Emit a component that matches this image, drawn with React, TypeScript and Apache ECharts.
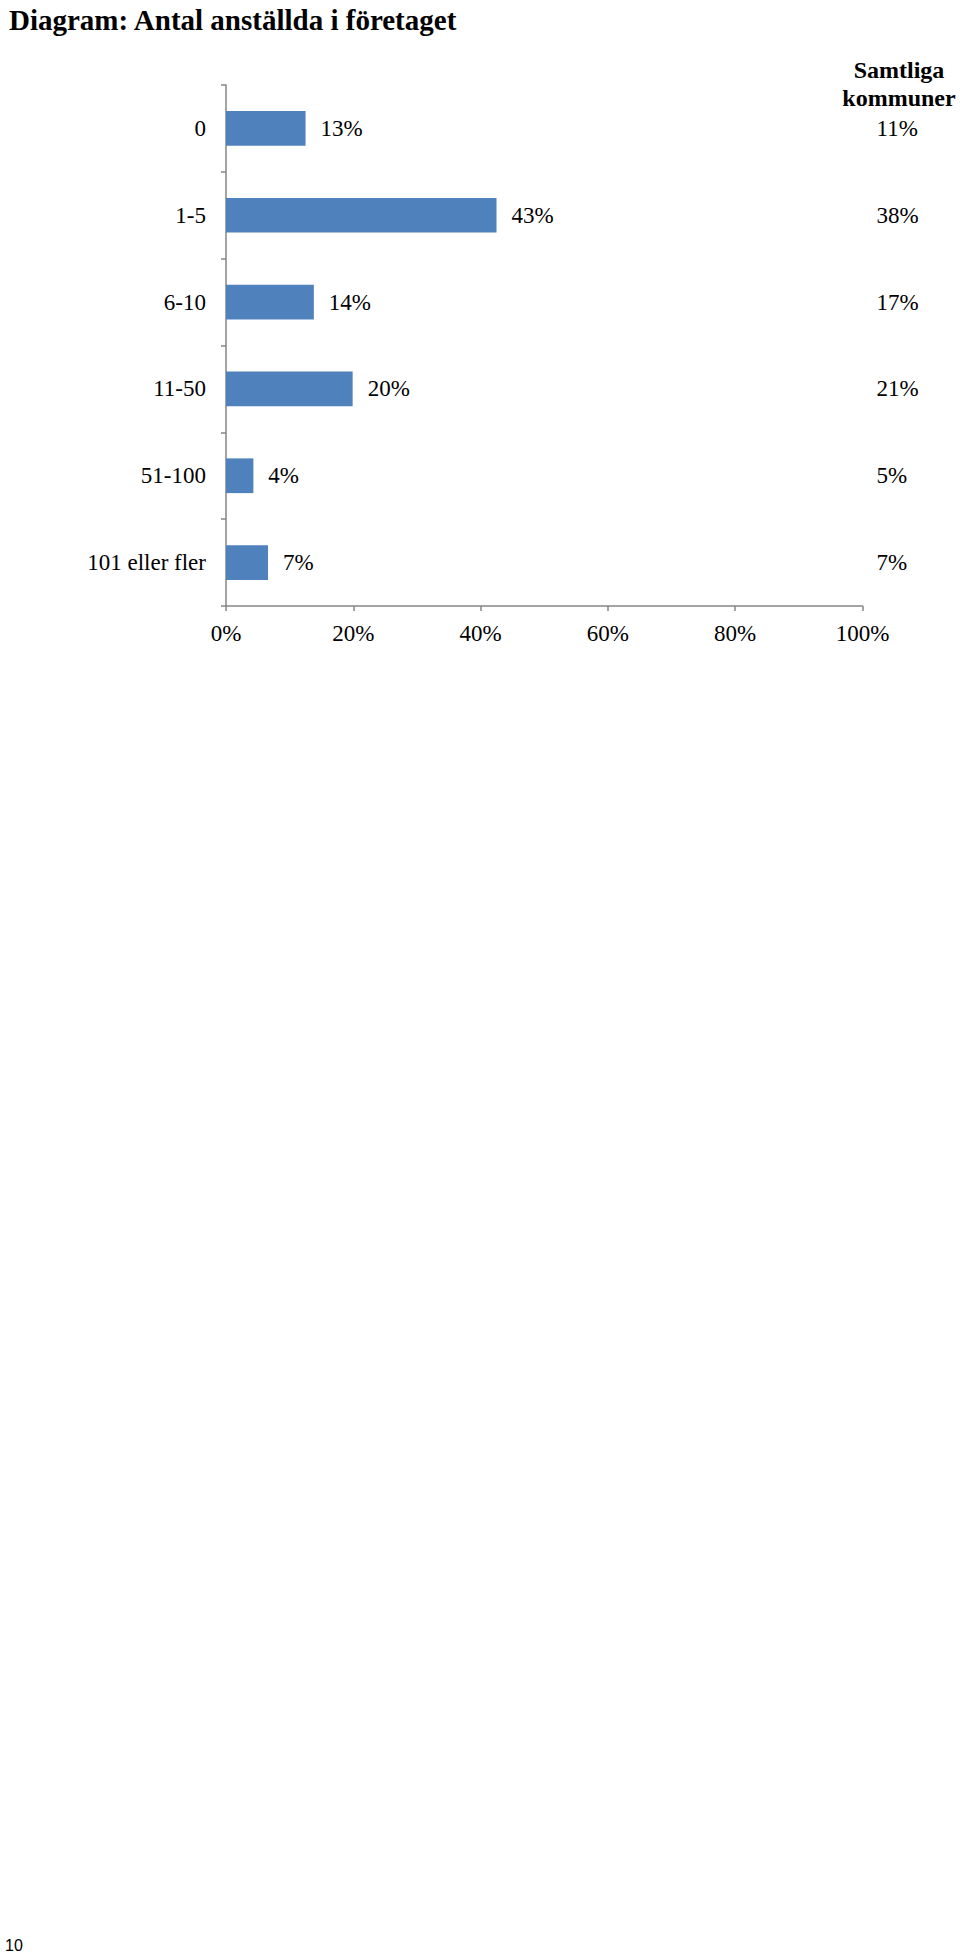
import React, { useEffect, useRef } from 'react'
import * as echarts from 'echarts'

const categories = ['0', '1-5', '6-10', '11-50', '51-100', '101 eller fler']
// share in this municipality (labels are rounded)
const shares = [12.5, 42.5, 13.8, 19.9, 4.3, 6.6]
// right-hand column: all municipalities
const allMunicipalities = [11, 38, 17, 21, 5, 7]
const xTicks = [0, 20, 40, 60, 80, 100]

const SERIF = "'Liberation Serif', 'Times New Roman', serif"
const AXIS_GRAY = '#868686'
const BAR_BLUE = '#4F81BD'

const App: React.FC = () => {
  const chartRef = useRef<HTMLDivElement>(null)

  useEffect(() => {
    if (!chartRef.current) return
    const chart = echarts.init(chartRef.current, undefined, { renderer: 'svg' })

    const option: echarts.EChartsOption = {
      animation: false,
      backgroundColor: '#fff',
      title: {
        text: 'Diagram: Antal anställda i företaget',
        left: 4,
        top: 0,
        textStyle: {
          fontFamily: SERIF,
          fontWeight: 'bold',
          fontSize: 29,
          color: '#000'
        }
      },
      grid: {
        left: 226,
        right: 97.5,
        top: 85,
        bottom: 1351
      },
      xAxis: {
        type: 'value',
        min: xTicks[0],
        max: xTicks[xTicks.length - 1],
        interval: 20,
        splitLine: { show: false },
        axisLine: { show: true, lineStyle: { color: AXIS_GRAY, width: 1.5 } },
        axisTick: { show: true, length: 5, lineStyle: { color: AXIS_GRAY, width: 1.5 } },
        axisLabel: {
          margin: 16,
          formatter: '{value}%',
          fontFamily: SERIF,
          fontSize: 23,
          color: '#000'
        }
      },
      yAxis: [
        {
          type: 'category',
          data: categories,
          inverse: true,
          axisLine: { show: true, lineStyle: { color: AXIS_GRAY, width: 1.5 } },
          axisTick: { show: true, length: 5, lineStyle: { color: AXIS_GRAY, width: 1.5 } },
          axisLabel: {
            margin: 20,
            fontFamily: SERIF,
            fontSize: 23,
            color: '#000'
          }
        },
        {
          type: 'category',
          position: 'right',
          data: allMunicipalities.map(v => v + '%'),
          inverse: true,
          axisLine: { show: false },
          axisTick: { show: false },
          axisLabel: {
            margin: 14,
            align: 'left',
            padding: [4, 0, 0, 0],
            fontFamily: SERIF,
            fontSize: 23,
            color: '#000'
          }
        }
      ],
      graphic: [
        {
          type: 'text',
          x: 899,
          y: 84,
          style: {
            text: 'Samtliga\nkommuner',
            align: 'center',
            verticalAlign: 'middle',
            lineHeight: 28,
            font: `bold 24px ${SERIF}`,
            fill: '#000'
          }
        },
        {
          type: 'text',
          x: 5,
          y: 1945,
          style: {
            text: '10',
            align: 'left',
            verticalAlign: 'middle',
            font: "16px 'Liberation Sans', Arial, sans-serif",
            fill: '#000'
          }
        }
      ],
      series: [
        {
          type: 'bar',
          yAxisIndex: 0,
          data: shares,
          barWidth: '40%',
          itemStyle: { color: BAR_BLUE },
          label: {
            show: true,
            position: 'right',
            distance: 15,
            formatter: (p: any) => Math.round(p.value) + '%',
            fontFamily: SERIF,
            fontSize: 23,
            color: '#000'
          }
        }
      ]
    }

    chart.setOption(option)
    return () => {
      chart.dispose()
    }
  }, [])

  return (
    <div
      ref={chartRef}
      style={{ position: 'absolute', left: 0, top: 0, width: 960, height: 1957 }}
    />
  )
}

export default App
